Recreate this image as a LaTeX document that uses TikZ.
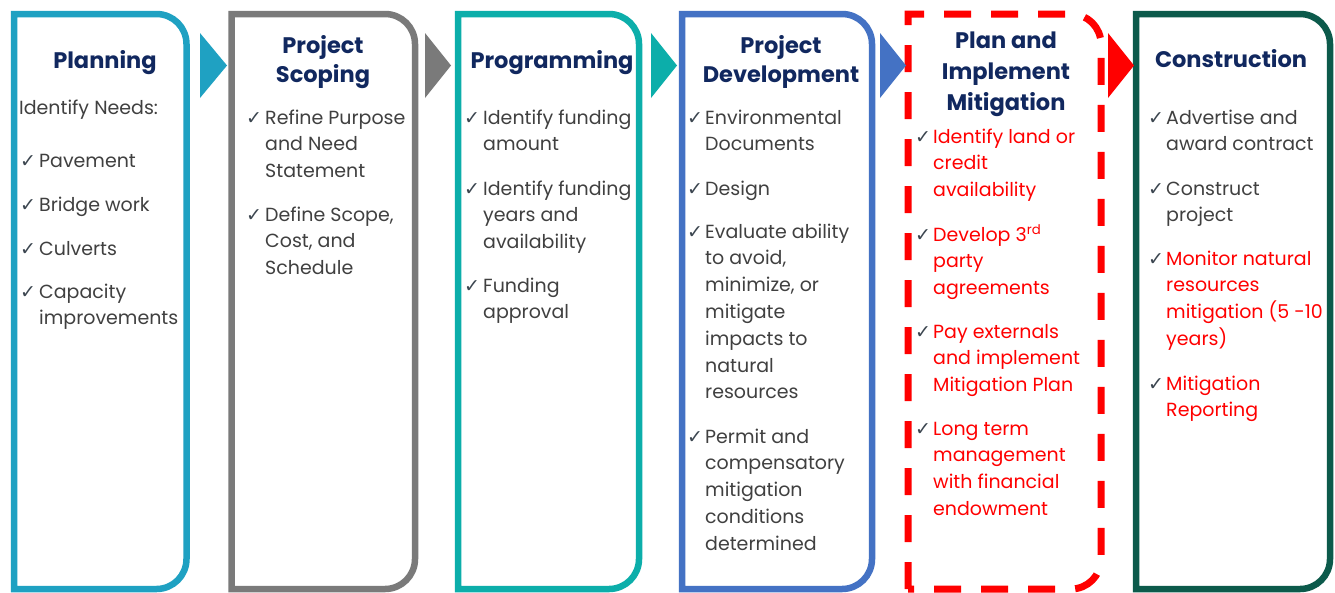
\documentclass[tikz,border=0pt]{standalone}
\usepackage{fontspec}
\setmainfont{Poppins}
\newfontfamily\symfont{DejaVu Sans}
\definecolor{cPlan}{RGB}{31,161,194}
\definecolor{cScope}{RGB}{122,122,122}
\definecolor{cProg}{RGB}{12,174,170}
\definecolor{cDev}{RGB}{68,114,196}
\definecolor{cMit}{RGB}{255,0,0}
\definecolor{cCons}{RGB}{12,90,75}
\definecolor{navy}{RGB}{17,40,95}
\definecolor{bodygray}{RGB}{64,64,64}
\definecolor{chkgray}{RGB}{60,70,80}
\newcommand\stagebox[4]{% color, left, right, extra
  \draw[line width=6.5pt, draw=#1, #4]
    (#2,589) -- (#2,14) -- ({#3-30},14)
    .. controls ({#3-13.4},14) and (#3,27.4) .. (#3,44)
    -- (#3,559)
    .. controls (#3,575.6) and ({#3-13.4},589) .. ({#3-30},589)
    -- cycle;}
\newcommand\chkitem[6]{% name, xcheck, xtext, ybase, lines, extra
  \node[chk] (#1c) at (#2,#4) {✓};
  \foreach \t [count=\i from 0] in {#5} {\node[body,#6] (#1l\i) at (#3,{#4+\i*26.8}) {\t};}}
\newcommand\arrowtri[3]{% color, xleft, xright
  \fill[#1] (#2,33) -- (#3,65.5) -- (#2,98) -- cycle;}
\begin{document}
\begin{tikzpicture}[x=1pt,y=-1pt,
  title/.style={font=\bfseries\fontsize{22.5}{26}\selectfont, text=navy, inner sep=0pt, anchor=base},
  body/.style={font=\fontsize{19}{23}\selectfont, text=bodygray, inner sep=0pt, anchor=base west},
  chk/.style={font=\symfont\fontsize{19}{22}\selectfont, text=chkgray, inner sep=0pt, anchor=base west},
  redtext/.style={text=cMit}]
\useasboundingbox (0,0) rectangle (1335,592);
\fill[white] (0,0) rectangle (1335,592);
% boxes
\stagebox{cPlan}{14}{186.5}{}
\stagebox{cScope}{231.5}{415}{}
\stagebox{cProg}{458}{639}{}
\stagebox{cDev}{682}{872}{}
\stagebox{cMit}{908}{1101}{line width=7pt, dash pattern=on 27pt off 20pt}
\stagebox{cCons}{1136}{1330}{}
% arrows
\arrowtri{cPlan}{200}{227}
\arrowtri{cScope}{425}{451}
\arrowtri{cProg}{651}{677}
\arrowtri{cDev}{880}{906}
\arrowtri{cMit}{1108}{1134}
% titles
\node[title] (t1) at (105,68) {Planning};
\node[title] (t2a) at (323,53) {Project};
\node[title] (t2b) at (323,82) {Scoping};
\node[title] (t3) at (552,68) {Programming};
\node[title] (t4a) at (781,53) {Project};
\node[title] (t4b) at (781,82) {Development};
\node[title] (t5a) at (1006,48) {Plan and};
\node[title] (t5b) at (1006,79) {Implement};
\node[title] (t5c) at (1006,110) {Mitigation};
\node[title] (t6) at (1231,67) {Construction};
% box 1
\node[body] (needs) at (19,114) {Identify Needs:};
\chkitem{a1}{20}{39}{167}{Pavement}{}
\chkitem{a2}{20}{39}{211}{Bridge work}{}
\chkitem{a3}{20}{39}{255}{Culverts}{}
\chkitem{a4}{20}{39}{298}{Capacity,improvements}{}
% box 2
\chkitem{b1}{246}{265}{124}{Refine Purpose,and Need,Statement}{}
\chkitem{b2}{246}{265}{221}{{Define Scope,},{Cost, and},Schedule}{}
% box 3
\chkitem{c1}{464}{483}{124}{Identify funding,amount}{}
\chkitem{c2}{464}{483}{195}{Identify funding,years and,availability}{}
\chkitem{c3}{464}{483}{292}{Funding,approval}{}
% box 4
\chkitem{d1}{687}{705}{124}{Environmental,Documents}{}
\chkitem{d2}{687}{705}{195}{Design}{}
\chkitem{d3}{687}{705}{238}{Evaluate ability,{to avoid,},{minimize, or},mitigate,impacts to,natural,resources}{}
\chkitem{d4}{687}{705}{443}{Permit and,compensatory,mitigation,conditions,determined}{}
% box 5
\chkitem{e1}{915}{933}{143}{Identify land or,credit,availability}{redtext}
\chkitem{e2}{915}{933}{241}{Develop 3\textsuperscript{rd},party,agreements}{redtext}
\chkitem{e3}{915}{933}{338}{Pay externals,and implement,Mitigation Plan}{redtext}
\chkitem{e4}{915}{933}{435}{Long term,management,with financial,endowment}{redtext}
% box 6
\chkitem{f1}{1148}{1166}{124}{Advertise and,award contract}{}
\chkitem{f2}{1148}{1166}{195}{Construct,project}{}
\chkitem{f3}{1148}{1166}{265}{Monitor natural,resources,mitigation (5 -10,years)}{redtext}
\chkitem{f4}{1148}{1166}{390}{Mitigation,Reporting}{redtext}
\end{tikzpicture}
\end{document}
